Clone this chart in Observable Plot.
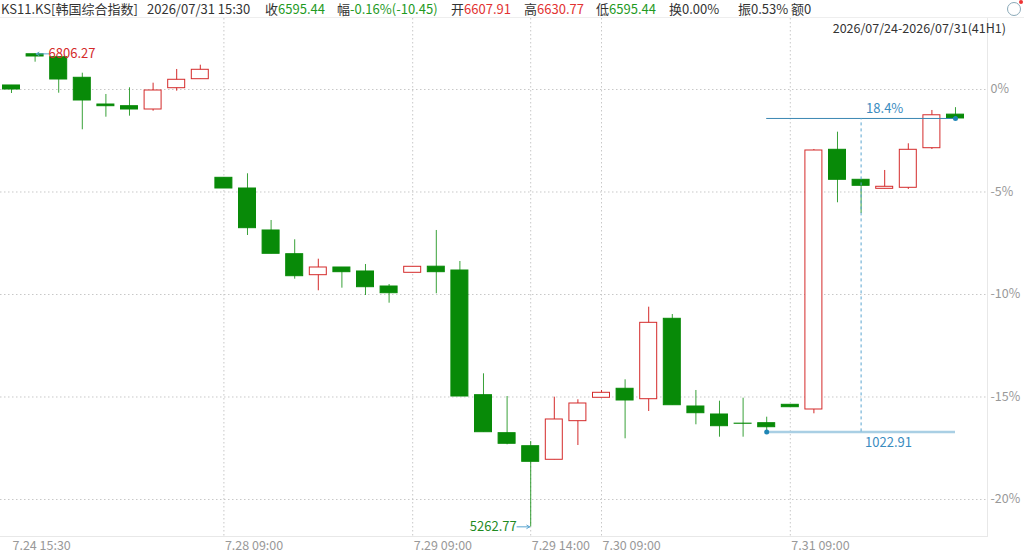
<!DOCTYPE html>
<html>
<head>
<meta charset="utf-8">
<script src="https://cdn.jsdelivr.net/npm/d3@7"></script>
<script src="https://cdn.jsdelivr.net/npm/@observablehq/plot@0.6"></script>
<style>
  html, body { margin: 0; padding: 0; background: #fff; }
  body { width: 1024px; height: 554px; overflow: hidden; position: relative;
         font-family: "Noto Sans CJK SC", "Noto Sans", sans-serif; }
  #hdr { position: relative; height: 17px; border-bottom: 1px solid #eeeeee; font-size: 13px; color: #333; }
  #hdr span.g { position: absolute; top: 0; line-height: 18px; white-space: nowrap; }
  .gr { color: #1f9a1f; }
  .rd { color: #e23232; }
  #range { position: absolute; right: 18px; top: 18px; line-height: 19px; font-size: 12.5px; color: #333; z-index: 2; }
  #icon { position: absolute; left: 1007px; top: 2px; width: 12px; height: 12px; border: 1px solid #8aa9b8; border-radius: 50%; }
  #icon::after { content: ""; position: absolute; right: -3px; top: -3px; width: 4px; height: 4px; border-radius: 50%; background: #e33; }
  #chart { position: absolute; left: 0; top: 18px; }
</style>
</head>
<body>
<div id="hdr"></div>
<div id="range"></div>
<div id="chart"></div>
<script>
// ---- data ----
const symbolName = "KS11.KS[韩国综合指数]";
const stamp = "2026/07/31 15:30";
const headerItems = [
  {label: "收", value: "6595.44", cls: "gr", left: 265},
  {label: "幅", value: "-0.16%(-10.45)", cls: "gr", left: 337},
  {label: "开", value: "6607.91", cls: "rd", left: 451},
  {label: "高", value: "6630.77", cls: "rd", left: 524},
  {label: "低", value: "6595.44", cls: "gr", left: 596},
  {label: "换", value: "0.00%", cls: "", left: 669},
  {label: "振", value: "0.53%", cls: "", left: 738},
  {label: "额", value: "0", cls: "", left: 791}
];
const rangeText = "2026/07/24-2026/07/31(41H1)";

const basePrice = 6690;
const tickIdx = [0, 9, 17, 22, 25, 33];
const tickLabels = ["7.24 15:30", "7.28 09:00", "7.29 09:00", "7.29 14:00", "7.30 09:00", "7.31 09:00"];
const gridPcts = [0, -5, -10, -15, -20];

const opens  = [6703.10, 6805.00, 6795.40, 6728.20, 6641.00, 6635.50, 6624.70, 6694.20, 6723.60,
                6401.80, 6366.90, 6229.90, 6152.50, 6084.00, 6109.10, 6096.10, 6047.10,
                6091.80, 6111.70, 6099.30, 5692.40, 5568.40, 5525.90, 5481.60, 5607.60,
                5683.90, 5713.30, 5679.30, 5941.70, 5655.50, 5629.40, 5599.50, 5601.00,
                5661.00, 5645.70, 6493.20, 6395.30, 6365.90, 6369.20, 6498.40, 6607.91];
const highs  = [6703.10, 6806.27, 6795.40, 6743.20, 6673.70, 6695.50, 6710.60, 6755.30, 6769.30,
                6401.80, 6414.90, 6262.50, 6199.50, 6136.20, 6109.10, 6118.90, 6053.60,
                6111.40, 6229.90, 6128.70, 5762.20, 5688.10, 5541.30, 5685.90, 5677.40,
                5707.70, 5742.60, 5979.60, 5955.70, 5707.70, 5672.80, 5682.60, 5620.60,
                5661.00, 6494.20, 6550.70, 6395.30, 6425.70, 6512.80, 6621.50, 6630.77];
const lows   = [6676.90, 6779.10, 6677.90, 6558.50, 6599.60, 6602.90, 6619.20, 6684.50, 6723.60,
                6366.90, 6213.50, 6153.80, 6071.00, 6033.10, 6041.60, 6017.70, 5992.60,
                6091.80, 6023.30, 5688.10, 5571.60, 5530.50, 5262.77, 5481.60, 5528.20,
                5683.90, 5550.10, 5639.20, 5659.70, 5595.80, 5555.30, 5555.30, 5572.53,
                5653.20, 5631.70, 6320.30, 6285.30, 6365.90, 6363.70, 6494.20, 6595.44];
const closes = [6690.00, 6797.70, 6722.60, 6654.10, 6635.50, 6624.70, 6686.70, 6721.70, 6754.30,
                6366.90, 6237.40, 6153.80, 6080.70, 6109.10, 6093.80, 6044.80, 6025.20,
                6111.40, 6093.80, 5688.10, 5571.60, 5533.80, 5475.00, 5613.10, 5665.30,
                5700.20, 5675.10, 5928.60, 5659.70, 5633.60, 5591.20, 5599.10, 5587.90,
                5653.20, 6490.90, 6395.30, 6375.70, 6372.50, 6493.20, 6605.89, 6595.44];
// measuring tool: from candle 32 low to candle 40 close
const measureFrom = 32, measureTo = 40;

// ---- header ----
const hdr = document.getElementById("hdr");
function addSpan(html, left) {
  const s = document.createElement("span");
  s.className = "g"; s.style.left = left + "px"; s.innerHTML = html; hdr.appendChild(s);
}
addSpan(symbolName, 1);
addSpan(stamp, 147);
headerItems.forEach(d => addSpan(`${d.label}<span class="${d.cls}">${d.value}</span>`, d.left));
const icon = document.createElement("div"); icon.id = "icon"; hdr.appendChild(icon);
document.getElementById("range").textContent = rangeText;

// ---- chart ----
const GREEN = "#088a08", RED = "#d42a2a", BLUE = "#3a8cbf";
const pct = v => (v / basePrice - 1) * 100;
const candles = opens.map((o, i) => ({
  i, o: pct(o), h: pct(highs[i]), l: pct(lows[i]), c: pct(closes[i]), up: closes[i] >= o
}));
const half = 0.36;

const hiIdx = d3.maxIndex(highs), loIdx = d3.minIndex(lows);
const hiPt = {i: hiIdx, y: pct(highs[hiIdx]), t: highs[hiIdx].toFixed(2)};
const loPt = {i: loIdx, y: pct(lows[loIdx]), t: lows[loIdx].toFixed(2)};

const topVal = closes[measureTo], botVal = lows[measureFrom];
const midIdx = (measureFrom + measureTo) / 2;
const mTop = {x1: measureFrom, x2: measureTo, y: pct(topVal), t: ((topVal - botVal) / botVal * 100).toFixed(1) + "%"};
const mBot = {x1: measureFrom, x2: measureTo, y: pct(botVal), t: (topVal - botVal).toFixed(2)};

const chart = Plot.plot({
  width: 1024,
  height: 536,
  marginLeft: 0,
  marginRight: 37,
  marginTop: 0,
  marginBottom: 18,
  x: {type: "linear", domain: [-0.466, 41.356], axis: null},
  y: {domain: [-21.805, 3.463], axis: null},
  style: {fontFamily: "'Noto Sans CJK SC', 'Noto Sans', sans-serif", background: "#fff"},
  marks: [
    Plot.ruleY(gridPcts, {stroke: "#c8c8c8", strokeDasharray: "1.5,2.5"}),
    Plot.ruleX(tickIdx.slice(1), {stroke: "#c8c8c8", strokeDasharray: "1.5,2.5"}),
    Plot.frame({anchor: "right", stroke: "#e8e8e8"}),
    Plot.frame({anchor: "bottom", stroke: "#e8e8e8"}),
    Plot.axisY(gridPcts, {anchor: "right", tickSize: 0, tickPadding: 3, tickFormat: d => `${d}%`,
      fill: "#999", fontSize: 12.5, label: null}),
    Plot.axisX(tickIdx, {anchor: "bottom", tickSize: 0, tickPadding: 5,
      tickFormat: (d, i) => tickLabels[tickIdx.indexOf(d)], textAnchor: "start", dx: 1,
      fill: "#999", fontSize: 12.5, label: null}),
    // wicks
    Plot.ruleX(candles, {filter: d => !d.up, x: "i", y1: "l", y2: "h", stroke: GREEN, strokeOpacity: 0.8}),
    Plot.ruleX(candles, {filter: d => d.up, x: "i", y1: "l", y2: "h", stroke: RED}),
    // bodies
    Plot.rect(candles, {filter: d => !d.up, x1: d => d.i - half, x2: d => d.i + half, y1: "o", y2: "c",
      fill: GREEN, stroke: GREEN}),
    Plot.rect(candles, {filter: d => d.up, x1: d => d.i - half, x2: d => d.i + half, y1: "o", y2: "c",
      fill: "#fff", stroke: RED}),
    // high / low labels
    Plot.arrow([hiPt], {x1: d => d.i + 0.58, x2: "i", y1: "y", y2: "y", stroke: "#5aa4cf",
      headLength: 5, strokeWidth: 1, insetEnd: 1}),
    Plot.text([hiPt], {x: "i", y: "y", text: "t", dx: 13.5, textAnchor: "start", fill: "#d42a2a", fontSize: 13}),
    Plot.arrow([loPt], {x1: d => d.i - 0.58, x2: "i", y1: "y", y2: "y", stroke: "#5aa4cf",
      headLength: 5, strokeWidth: 1, insetEnd: 1}),
    Plot.text([loPt], {x: "i", y: "y", text: "t", dx: -14, textAnchor: "end", fill: "#1f8a1f", fontSize: 13}),
    // measuring tool
    Plot.ruleY([mBot], {x1: "x1", x2: "x2", y: "y", stroke: "#a9cfe4", strokeWidth: 2.5}),
    Plot.ruleY([mTop], {x1: "x1", x2: "x2", y: "y", stroke: "#3a86b2", strokeWidth: 1}),
    Plot.ruleX([midIdx], {y1: mBot.y, y2: mTop.y, stroke: "#5aa4cf", strokeDasharray: "3,3"}),
    Plot.dot([{x: measureFrom, y: mBot.y}, {x: measureTo, y: mTop.y}], {x: "x", y: "y", r: 2.5, fill: "#1f86b5"}),
    Plot.text([mTop], {x: midIdx, y: "y", text: "t", dx: 5, dy: -10, textAnchor: "start", fill: BLUE, fontSize: 13}),
    Plot.text([mBot], {x: midIdx, y: "y", text: "t", dx: 4, dy: 11, textAnchor: "start", fill: BLUE, fontSize: 13})
  ]
});
document.getElementById("chart").appendChild(chart);
</script>
</body>
</html>
